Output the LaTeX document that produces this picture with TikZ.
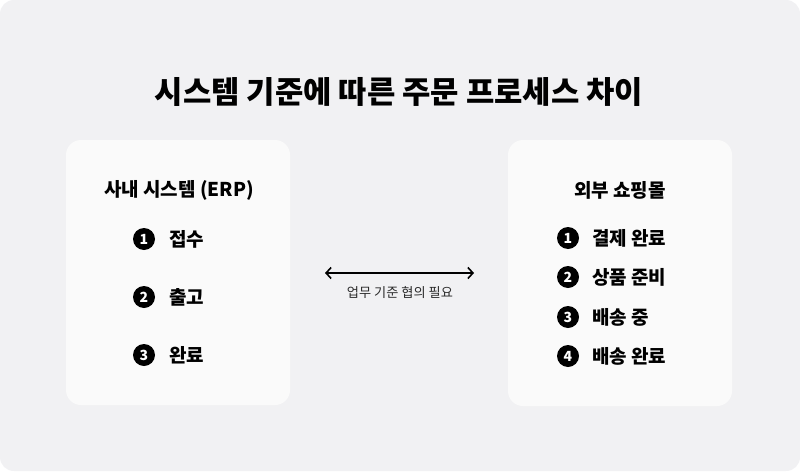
\documentclass[tikz,border=0pt]{standalone}
\usepackage{fontspec}
\setmainfont{Noto Sans CJK KR}
\usetikzlibrary{arrows.meta}
\definecolor{bgc}{HTML}{F1F1F3}
\definecolor{boxc}{HTML}{FAFAFA}
\definecolor{lblc}{HTML}{2A2A2A}
\tikzset{
  panel/.style={fill=boxc, draw=none, rounded corners=15pt},
  ttl/.style={font=\fontsize{30.8}{34}\selectfont\bfseries, text=black, inner sep=0pt},
  head/.style={font=\fontsize{19}{22}\selectfont\bfseries, text=black, inner sep=0pt},
  item/.style={font=\fontsize{19}{22}\selectfont\bfseries, text=black, inner sep=0pt, anchor=west},
  num/.style={circle, fill=black, text=white, minimum size=22pt, inner sep=0pt, font=\fontsize{14}{14}\selectfont\bfseries},
  lbl/.style={font=\fontsize{13.2}{15}\selectfont, text=lblc, inner sep=0pt},
  link/.style={line width=1.6pt, {Straight Barb[length=5pt,width=11pt,line width=1.6pt]}-{Straight Barb[length=5pt,width=11pt,line width=1.6pt]}}
}
\begin{document}
\begin{tikzpicture}[x=1pt,y=-1pt]
\useasboundingbox (0,0) rectangle (800,471);
\fill[white] (0,0) rectangle (800,471);
\fill[bgc, rounded corners=14pt] (0,0) rectangle (800,471);
\node[ttl] (title) at (399,92) {시스템 기준에 따른 주문 프로세스 차이};
% left panel
\fill[panel] (66,140) rectangle (290,405);
\node[head] (lh) at (179,190) {사내 시스템 (ERP)};
\node[num] (l1) at (144,239) {1};
\node[item] (l1t) at (169,239) {접수};
\node[num] (l2) at (144,297) {2};
\node[item] (l2t) at (169,297) {출고};
\node[num] (l3) at (144,355) {3};
\node[item] (l3t) at (169,355) {완료};
% right panel
\fill[panel] (508,140) rectangle (732,406);
\node[head] (rh) at (620,190) {외부 쇼핑몰};
\node[num] (r1) at (568,238) {1};
\node[item] (r1t) at (592,238) {결제 완료};
\node[num] (r2) at (568,277) {2};
\node[item] (r2t) at (592,277) {상품 준비};
\node[num] (r3) at (568,317) {3};
\node[item] (r3t) at (592,317) {배송 중};
\node[num] (r4) at (568,356) {4};
\node[item] (r4t) at (592,356) {배송 완료};
% connector
\coordinate (al) at (325,273);
\coordinate (ar) at (474,273);
\draw[link] (al) -- (ar);
\node[lbl] (albl) at (400,293) {업무 기준 협의 필요};
\end{tikzpicture}
\end{document}
